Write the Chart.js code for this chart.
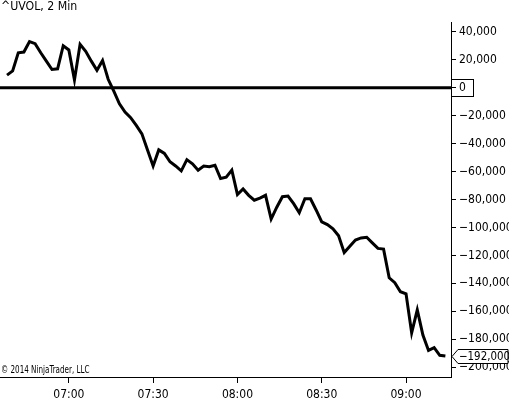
<!DOCTYPE html>
<html>
<head>
<meta charset="utf-8">
<script src="https://cdn.jsdelivr.net/npm/chart.js@4.4.1/dist/chart.umd.min.js"></script>
<style>
html,body{margin:0;padding:0;background:#fff;}
#wrap{width:509px;height:400px;position:relative;}
</style>
</head>
<body>
<div id="wrap"><canvas id="c" width="509" height="400"></canvas></div>
<script>
const title = "^UVOL, 2 Min";
const copyright = "\u00A9 2014 NinjaTrader, LLC";
const times = [
 "06:38","06:40","06:42","06:44","06:46","06:48","06:50","06:52","06:54","06:56",
 "06:58","07:00","07:02","07:04","07:06","07:08","07:10","07:12","07:14","07:16",
 "07:18","07:20","07:22","07:24","07:26","07:28","07:30","07:32","07:34","07:36",
 "07:38","07:40","07:42","07:44","07:46","07:48","07:50","07:52","07:54","07:56",
 "07:58","08:00","08:02","08:04","08:06","08:08","08:10","08:12","08:14","08:16",
 "08:18","08:20","08:22","08:24","08:26","08:28","08:30","08:32","08:34","08:36",
 "08:38","08:40","08:42","08:44","08:46","08:48","08:50","08:52","08:54","08:56",
 "08:58","09:00","09:02","09:04","09:06","09:08","09:10","09:12","09:14"
];
const uvol = [
 9000, 12000, 25000, 25500, 33000, 31500, 25000, 19000, 13000, 13500,
 30000, 27000, 5500, 31000, 26000, 19000, 12500, 19500, 6000, -2500,
 -11500, -17500, -21500, -27000, -33000, -44500, -56000, -44500, -47000, -53000,
 -56000, -59500, -51500, -54500, -59000, -56000, -56500, -55500, -65000, -64000,
 -59000, -76500, -72500, -77000, -80500, -79000, -77000, -94000, -85500, -78000,
 -77500, -83000, -89500, -79500, -79500, -87500, -96000, -98000, -101000, -106000,
 -118000, -113500, -109000, -107500, -107000, -111000, -115000, -115500, -136000, -139500,
 -146000, -147500, -175500, -159000, -177000, -188000, -186000, -191500, -192000
];
const xTickTimes = ["07:00","07:30","08:00","08:30","09:00"];
const yTickValues = [40000,20000,0,-20000,-40000,-60000,-80000,-100000,-120000,-140000,-160000,-180000,-200000];
const lastValue = -192000;

const FONT = "'DejaVu Sans Condensed','Liberation Sans Narrow',sans-serif";
const toMin = s => { const p = s.split(':'); return (+p[0])*60 + (+p[1]); };
const fmtMin = m => { const h = Math.floor(m/60), mm = Math.round(m%60); return String(h).padStart(2,'0')+':'+String(mm).padStart(2,'0'); };
const fmtNum = v => (v < 0 ? '\u2212' : '') + Math.abs(v).toLocaleString('en-US');

const points = times.map((t,i) => ({x: toMin(t), y: uvol[i]}));

function squeezedText(ctx, text, x, y, sx) {
  ctx.save();
  ctx.translate(x, y);
  ctx.scale(sx, 1);
  ctx.fillText(text, 0, 0);
  ctx.restore();
}

const overlay = {
  id: 'overlay',
  beforeDatasetsDraw(chart) {
    const {ctx, chartArea, scales} = chart;
    const y0 = scales.y.getPixelForValue(0);
    ctx.save();
    ctx.strokeStyle = '#000';
    ctx.lineWidth = 3;
    ctx.beginPath();
    ctx.moveTo(chartArea.left, y0);
    ctx.lineTo(chartArea.right, y0);
    ctx.stroke();
    ctx.restore();
  },
  afterDraw(chart) {
    const {ctx, chartArea, scales} = chart;
    const R = chartArea.right;
    ctx.save();
    // zero box
    const y0 = scales.y.getPixelForValue(0);
    ctx.strokeStyle = '#000';
    ctx.lineWidth = 1;
    ctx.strokeRect(R + 0.5, Math.round(y0) - 8.5, 22, 17);
    // last value callout
    const yl = Math.round(scales.y.getPixelForValue(lastValue)) + 0.5;
    ctx.beginPath();
    ctx.moveTo(R + 1, yl);
    ctx.lineTo(R + 7, yl - 7);
    ctx.lineTo(508, yl - 7);
    ctx.lineTo(508, yl + 7);
    ctx.lineTo(R + 7, yl + 7);
    ctx.closePath();
    ctx.fillStyle = '#fff';
    ctx.fill();
    ctx.stroke();
    ctx.fillStyle = '#000';
    ctx.font = '12px ' + FONT;
    ctx.textBaseline = 'middle';
    ctx.textAlign = 'left';
    squeezedText(ctx, fmtNum(lastValue), R + 8, yl + 0.5, 0.95);
    // title
    ctx.textBaseline = 'alphabetic';
    ctx.font = '13px ' + FONT;
    squeezedText(ctx, title, 1, 10, 0.94);
    // copyright
    ctx.font = '10px ' + FONT;
    squeezedText(ctx, copyright, 1, 373, 0.8);
    ctx.restore();
  }
};

new Chart(document.getElementById('c'), {
  type: 'line',
  data: {
    datasets: [{
      data: points,
      borderColor: '#000',
      borderWidth: 3,
      pointRadius: 0,
      tension: 0,
      fill: false
    }]
  },
  options: {
    responsive: false,
    animation: false,
    events: [],
    layout: {padding: {top: 22, left: 0, right: 0, bottom: 0}},
    plugins: {legend: {display: false}, tooltip: {enabled: false}},
    scales: {
      x: {
        type: 'linear',
        position: 'bottom',
        min: 395.5,
        max: 556,
        afterBuildTicks: s => { s.ticks = xTickTimes.map(t => ({value: toMin(t)})); },
        afterFit: s => { s.height = 23; },
        grid: {drawOnChartArea: false, drawTicks: true, tickLength: 6, color: '#000', lineWidth: 1},
        border: {display: true, color: '#000', width: 1},
        ticks: {
          color: '#000',
          font: {family: FONT, size: 12},
          padding: 5,
          maxRotation: 0,
          autoSkip: false,
          callback: v => fmtMin(v)
        }
      },
      y: {
        type: 'linear',
        position: 'right',
        min: -207000,
        max: 47000,
        afterBuildTicks: s => { s.ticks = yTickValues.map(v => ({value: v})); },
        afterFit: s => { s.width = 58; },
        grid: {drawOnChartArea: false, drawTicks: true, tickLength: 5, color: '#000', lineWidth: 1},
        border: {display: true, color: '#000', width: 1},
        ticks: {
          color: '#000',
          font: {family: FONT, size: 12},
          padding: 3,
          autoSkip: false,
          callback: v => fmtNum(v)
        }
      }
    }
  },
  plugins: [overlay]
});
</script>
</body>
</html>
